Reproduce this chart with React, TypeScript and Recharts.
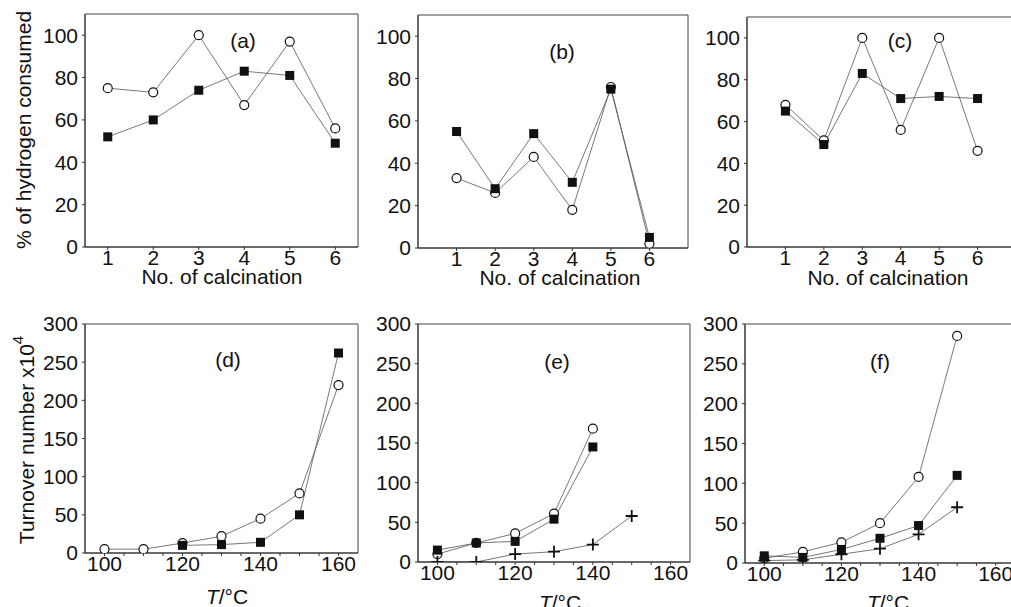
import React from 'react';
import {
  LineChart,
  Line,
  XAxis,
  YAxis,
  ReferenceArea
} from 'recharts';

// top row: No. of calcination vs % of hydrogen consumed
const calcination = [1, 2, 3, 4, 5, 6];
const aOpen = [75, 73, 100, 67, 97, 56];
const aFilled = [52, 60, 74, 83, 81, 49];
const bOpen = [33, 26, 43, 18, 76, 2];
const bFilled = [55, 28, 54, 31, 75, 5];
const cOpen = [68, 51, 100, 56, 100, 46];
const cFilled = [65, 49, 83, 71, 72, 71];

// bottom row: T/°C vs turnover number x10^4
const dOpenT = [100, 110, 120, 130, 140, 150, 160];
const dOpen = [5, 5, 13, 22, 45, 78, 220];
const dFilledT = [120, 130, 140, 150, 160];
const dFilled = [10, 11, 14, 50, 262];
const eOpenT = [100, 110, 120, 130, 140];
const eOpen = [10, 24, 36, 61, 168];
const eFilled = [15, 24, 26, 54, 145];
const ePlusT = [100, 110, 120, 130, 140, 150];
const ePlus = [0, 0, 10, 13, 22, 58];
const fT = [100, 110, 120, 130, 140, 150];
const fOpen = [6, 14, 26, 50, 108, 285];
const fFilled = [9, 7, 17, 31, 47, 110];
const fPlus = [3, 4, 11, 18, 36, 70];

const calcTicks = [1, 2, 3, 4, 5, 6];
const pctTicks = [0, 20, 40, 60, 80, 100];
const tempTicks = [100, 105, 110, 115, 120, 125, 130, 135, 140, 145, 150, 155, 160];
const tonTicks = [0, 50, 100, 150, 200, 250, 300];

const FONT = '"Liberation Sans", Arial, Helvetica, sans-serif';
const FS = 21;
const LINE = '#555';

const zip = (xs: number[], ys: number[]) => xs.map((x, i) => ({ x, y: ys[i] }));

type Marker = 'open' | 'filled' | 'plus';

const dotFor = (m: Marker) => {
  if (m === 'open') return { r: 4.5, fill: '#fff', stroke: '#111', strokeWidth: 1.2 };
  if (m === 'filled')
    return (p: any) => (
      <rect key={`s-${p.index}`} x={p.cx - 4.5} y={p.cy - 4.5} width={9} height={9} fill="#111" />
    );
  return (p: any) => (
    <path
      key={`p-${p.index}`}
      d={`M${p.cx - 6},${p.cy}H${p.cx + 6}M${p.cx},${p.cy - 6}V${p.cy + 6}`}
      stroke="#111"
      strokeWidth={1.8}
    />
  );
};

interface Series {
  data: { x: number; y: number }[];
  marker: Marker;
}

interface PanelProps {
  svg: [number, number, number, number];
  plot: [number, number, number, number];
  xDomain: [number, number];
  xTicks: number[];
  xFormat?: (v: number) => string;
  yDomain: [number, number];
  yTicks: number[];
  series: Series[];
  letter: string;
  letterPos: [number, number];
  xTitle: React.ReactNode;
  xTitlePos: [number, number];
  yTitle?: React.ReactNode;
  yTitlePos?: [number, number];
}

const YW = 60;
const XH = 30;

const Panel: React.FC<PanelProps> = ({
  svg, plot, xDomain, xTicks, xFormat, yDomain, yTicks, series,
  letter, letterPos, xTitle, xTitlePos, yTitle, yTitlePos
}) => {
  const [sx, sy, sw, sh] = svg;
  const [pl, pt, pr, pb] = plot;
  const margin = {
    left: pl - sx - YW,
    top: pt - sy,
    right: sx + sw - pr,
    bottom: sy + sh - pb - XH
  };
  const tickStyle = { fill: '#111', fontSize: FS, fontFamily: FONT };
  return (
    <div style={{ position: 'absolute', left: sx, top: sy }}>
      <LineChart width={sw} height={sh} margin={margin}>
        <XAxis
          type="number"
          dataKey="x"
          domain={xDomain}
          ticks={xTicks}
          tickFormatter={xFormat}
          interval={0}
          allowDataOverflow
          height={XH}
          tickSize={3}
          tickMargin={0}
          stroke="#333"
          tick={tickStyle}
        />
        <YAxis
          type="number"
          domain={yDomain}
          ticks={yTicks}
          interval={0}
          allowDataOverflow
          width={YW}
          tickSize={3}
          tickMargin={4}
          stroke="#333"
          tick={tickStyle}
        />
        <ReferenceArea
          x1={xDomain[0]}
          x2={xDomain[1]}
          y1={yDomain[0]}
          y2={yDomain[1]}
          fill="none"
          stroke="#444"
          strokeWidth={1}
          fillOpacity={0}
        />
        {series.map((s, i) => (
          <Line
            key={i}
            data={s.data}
            dataKey="y"
            stroke={LINE}
            strokeWidth={0.8}
            dot={dotFor(s.marker) as any}
            activeDot={false}
            isAnimationActive={false}
          />
        ))}
        <text
          x={letterPos[0] - sx}
          y={letterPos[1] - sy}
          textAnchor="middle"
          dominantBaseline="central"
          fontSize={FS}
          fontFamily={FONT}
          fill="#111"
        >
          {letter}
        </text>
        <text
          x={xTitlePos[0] - sx}
          y={xTitlePos[1] - sy}
          textAnchor="middle"
          dominantBaseline="central"
          fontSize={FS}
          fontFamily={FONT}
          fill="#111"
        >
          {xTitle}
        </text>
        {yTitle && yTitlePos && (
          <text
            x={yTitlePos[0] - sx}
            y={yTitlePos[1] - sy}
            transform={`rotate(-90 ${yTitlePos[0] - sx} ${yTitlePos[1] - sy})`}
            textAnchor="middle"
            dominantBaseline="central"
            fontSize={FS}
            fontFamily={FONT}
            fill="#111"
          >
            {yTitle}
          </text>
        )}
      </LineChart>
    </div>
  );
};

const tempFormat = (v: number) => (v % 20 === 0 ? String(v) : '');

const calcTitle = 'No. of calcination';
const tempTitle = (
  <>
    <tspan fontStyle="italic">T</tspan>/°C
  </>
);

const App: React.FC = () => (
  <div
    style={{
      position: 'absolute',
      left: 0,
      top: 0,
      width: 1011,
      height: 607,
      overflow: 'hidden',
      background: '#fff'
    }}
  >
    <Panel
      svg={[0, 0, 375, 300]}
      plot={[85, 14, 358, 247]}
      xDomain={[0.5, 6.5]}
      xTicks={calcTicks}
      yDomain={[0, 110]}
      yTicks={pctTicks}
      series={[
        { data: zip(calcination, aOpen), marker: 'open' },
        { data: zip(calcination, aFilled), marker: 'filled' }
      ]}
      letter="(a)"
      letterPos={[243, 40]}
      xTitle={calcTitle}
      xTitlePos={[222, 276]}
      yTitle="% of hydrogen consumed"
      yTitlePos={[23, 130]}
    />
    <Panel
      svg={[340, 0, 365, 300]}
      plot={[418, 15, 688, 248]}
      xDomain={[0, 7]}
      xTicks={calcTicks}
      yDomain={[0, 110]}
      yTicks={pctTicks}
      series={[
        { data: zip(calcination, bOpen), marker: 'open' },
        { data: zip(calcination, bFilled), marker: 'filled' }
      ]}
      letter="(b)"
      letterPos={[562, 51]}
      xTitle={calcTitle}
      xTitlePos={[560, 277]}
    />
    <Panel
      svg={[670, 0, 360, 300]}
      plot={[747, 17, 1016, 247]}
      xDomain={[0, 7]}
      xTicks={calcTicks}
      yDomain={[0, 110]}
      yTicks={pctTicks}
      series={[
        { data: zip(calcination, cOpen), marker: 'open' },
        { data: zip(calcination, cFilled), marker: 'filled' }
      ]}
      letter="(c)"
      letterPos={[900, 40]}
      xTitle={calcTitle}
      xTitlePos={[888, 277]}
    />
    <Panel
      svg={[0, 300, 375, 307]}
      plot={[85, 324, 358, 553]}
      xDomain={[95, 165]}
      xTicks={tempTicks}
      xFormat={tempFormat}
      yDomain={[0, 300]}
      yTicks={tonTicks}
      series={[
        { data: zip(dOpenT, dOpen), marker: 'open' },
        { data: zip(dFilledT, dFilled), marker: 'filled' }
      ]}
      letter="(d)"
      letterPos={[228, 359]}
      xTitle={tempTitle}
      xTitlePos={[227, 596]}
      yTitle={
        <>
          Turnover number x10
          <tspan baselineShift="super" fontSize={15}>4</tspan>
        </>
      }
      yTitlePos={[26, 440]}
    />
    <Panel
      svg={[340, 300, 365, 307]}
      plot={[418, 324, 690, 562]}
      xDomain={[95, 165]}
      xTicks={tempTicks}
      xFormat={tempFormat}
      yDomain={[0, 300]}
      yTicks={tonTicks}
      series={[
        { data: zip(eOpenT, eOpen), marker: 'open' },
        { data: zip(eOpenT, eFilled), marker: 'filled' },
        { data: zip(ePlusT, ePlus), marker: 'plus' }
      ]}
      letter="(e)"
      letterPos={[557, 361]}
      xTitle={tempTitle}
      xTitlePos={[560, 602]}
    />
    <Panel
      svg={[670, 300, 360, 307]}
      plot={[745, 324, 1015, 563]}
      xDomain={[95, 165]}
      xTicks={tempTicks}
      xFormat={tempFormat}
      yDomain={[0, 300]}
      yTicks={tonTicks}
      series={[
        { data: zip(fT, fOpen), marker: 'open' },
        { data: zip(fT, fFilled), marker: 'filled' },
        { data: zip(fT, fPlus), marker: 'plus' }
      ]}
      letter="(f)"
      letterPos={[880, 361]}
      xTitle={tempTitle}
      xTitlePos={[888, 602]}
    />
  </div>
);

export default App;
